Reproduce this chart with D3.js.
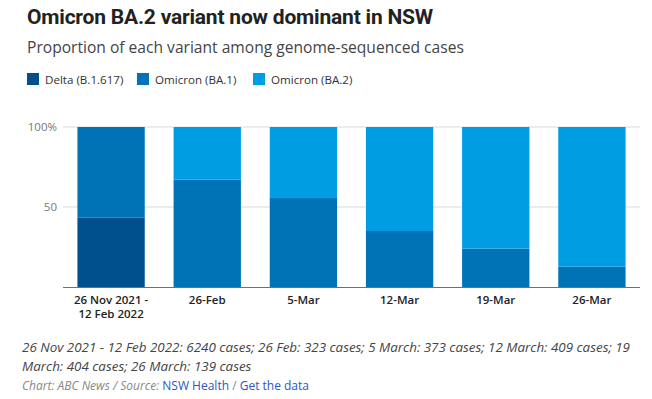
<html>
<head>
<meta charset="UTF-8">
<title>Omicron BA.2</title>
<script src="https://cdn.jsdelivr.net/npm/d3@7"></script>
<style>
  body { margin:0; background:#fff; font-family:"Open Sans", sans-serif; }
  svg text { font-family:"Open Sans", sans-serif; }
</style>
</head>
<body>
<svg id="chart" width="652" height="399"></svg>
<script>
// data
var periods = ["26 Nov 2021 -|12 Feb 2022", "26-Feb", "5-Mar", "12-Mar", "19-Mar", "26-Mar"];
var delta = [43.3, 0, 0, 0, 0, 0];
var ba1 = [56.7, 67.1, 55.6, 35, 24, 12.7];
var ba2 = [0, 32.9, 44.4, 65, 76, 87.3];
var seriesNames = ["Delta (B.1.617)", "Omicron (BA.1)", "Omicron (BA.2)"];
var colours = ["#00508d", "#0073b6", "#009de2"];
var yTicks = [50, 100];

var svg = d3.select("#chart");

svg.append("text").attr("x", 27).attr("y", 24)
  .style("font-family", "Roboto, sans-serif")
  .attr("font-size", 21).attr("font-weight", 700).attr("fill", "#222")
  .attr("letter-spacing", -0.2)
  .text("Omicron BA.2 variant now dominant in NSW");
svg.append("text").attr("x", 27).attr("y", 53)
  .attr("font-size", 15.6).attr("fill", "#444")
  .text("Proportion of each variant among genome-sequenced cases");

// legend
var legX = [27, 137, 253];
seriesNames.forEach(function(n, i){
  svg.append("rect").attr("x", legX[i]).attr("y", 73).attr("width", 12).attr("height", 12).attr("fill", colours[i]);
  svg.append("text").attr("x", legX[i] + 18).attr("y", 83.5)
    .attr("font-size", 11.6).attr("fill", "#333").text(n);
});

var rows = periods.map(function(p, i){
  return {period:p, delta:delta[i], ba1:ba1[i], ba2:ba2[i]};
});
var stack = d3.stack().keys(["delta", "ba1", "ba2"])(rows);

var x = d3.scaleBand().domain(periods).range([63, 640]).paddingInner(0.3).paddingOuter(0.15);
var y = d3.scaleLinear().domain([0, 100]).range([287, 127]);

// grid
var grid = svg.append("g");
grid.selectAll("line").data(yTicks).enter().append("line")
  .attr("x1", 63).attr("x2", 640)
  .attr("y1", function(d){ return y(d); }).attr("y2", function(d){ return y(d); })
  .attr("stroke", "#d6dbe2").attr("stroke-width", 1);
grid.selectAll("text").data(yTicks).enter().append("text")
  .attr("x", 57).attr("y", function(d){ return y(d) + 4; })
  .attr("text-anchor", "end").attr("font-size", 11.5).attr("fill", "#777")
  .text(function(d){ return d == 100 ? "100%" : d; });

// bars
svg.append("g").selectAll("g").data(stack).enter().append("g")
  .attr("fill", function(d, i){ return colours[i]; })
  .selectAll("rect").data(function(d){ return d; }).enter().append("rect")
  .attr("x", function(d){ return x(d.data.period); })
  .attr("width", x.bandwidth())
  .attr("y", function(d){ return y(d[1]); })
  .attr("height", function(d){ return y(d[0]) - y(d[1]); });

// baseline
svg.append("line").attr("x1", 63).attr("x2", 640).attr("y1", 287.5).attr("y2", 287.5)
  .attr("stroke", "#6b7079").attr("stroke-width", 1);

// x labels
periods.forEach(function(p){
  p.split("|").forEach(function(line, k){
    svg.append("text").attr("text-anchor", "middle").attr("font-size", 11.5)
      .attr("font-weight", 600).attr("fill", "#222")
      .attr("x", x(p) + x.bandwidth() / 2).attr("y", 304 + k * 14).text(line);
  });
});

// notes
var noteLines = ["26 Nov 2021 - 12 Feb 2022: 6240 cases; 26 Feb: 323 cases; 5 March: 373 cases; 12 March: 409 cases; 19",
  "March: 404 cases; 26 March: 139 cases"];
noteLines.forEach(function(t, k){
  svg.append("text").attr("x", 22).attr("y", 352 + k * 18.5)
    .attr("font-size", 13.4).attr("font-style", "italic").attr("fill", "#444").text(t);
});

var src = svg.append("text").attr("x", 22).attr("y", 390).attr("font-size", 12).attr("fill", "#888");
src.append("tspan").attr("font-style", "italic").text("Chart: ABC News / Source: ");
src.append("tspan").attr("fill", "#2b57c2").text("NSW Health");
src.append("tspan").text(" / ");
src.append("tspan").attr("fill", "#2b57c2").text("Get the data");
</script>
</body>
</html>
